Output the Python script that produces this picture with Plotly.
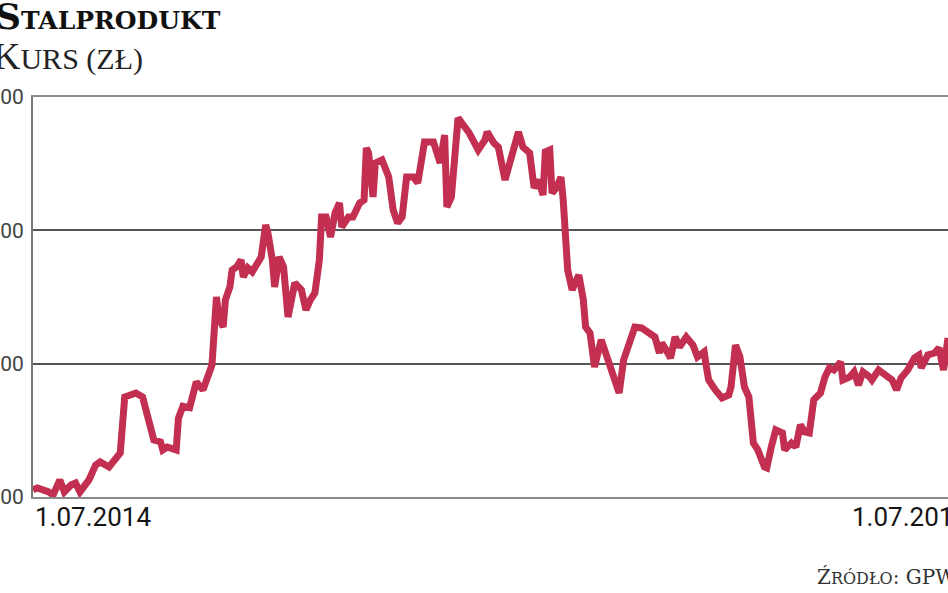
import plotly.graph_objects as go

dates = [
    "2014-07-01", "2014-07-03", "2014-07-08", "2014-07-10", "2014-07-13", "2014-07-15",
    "2014-07-18", "2014-07-20", "2014-07-22", "2014-07-26", "2014-07-29", "2014-07-31",
    "2014-08-04", "2014-08-07", "2014-08-09", "2014-08-11", "2014-08-16", "2014-08-19",
    "2014-08-22", "2014-08-24", "2014-08-27", "2014-08-28", "2014-08-30", "2014-09-03",
    "2014-09-04", "2014-09-06", "2014-09-09", "2014-09-11", "2014-09-12", "2014-09-15",
    "2014-09-17", "2014-09-19", "2014-09-21", "2014-09-22", "2014-09-24", "2014-09-25",
    "2014-09-27", "2014-09-28", "2014-09-30", "2014-10-02", "2014-10-03", "2014-10-05",
    "2014-10-07", "2014-10-09", "2014-10-11", "2014-10-13", "2014-10-14", "2014-10-16",
    "2014-10-17", "2014-10-19", "2014-10-21", "2014-10-23", "2014-10-24", "2014-10-26",
    "2014-10-29", "2014-10-31", "2014-11-02", "2014-11-04", "2014-11-06", "2014-11-07",
    "2014-11-09", "2014-11-11", "2014-11-13", "2014-11-15", "2014-11-16", "2014-11-19",
    "2014-11-21", "2014-11-24", "2014-11-26", "2014-11-27", "2014-11-28", "2014-11-30",
    "2014-12-01", "2014-12-04", "2014-12-07", "2014-12-09", "2014-12-11", "2014-12-13",
    "2014-12-15", "2014-12-18", "2014-12-20", "2014-12-23", "2014-12-27", "2014-12-30",
    "2015-01-01", "2015-01-02", "2015-01-04", "2015-01-06", "2015-01-07", "2015-01-12",
    "2015-01-16", "2015-01-19", "2015-01-20", "2015-01-23", "2015-01-25", "2015-01-28",
    "2015-01-30", "2015-02-01", "2015-02-03", "2015-02-05", "2015-02-08", "2015-02-10",
    "2015-02-12", "2015-02-14", "2015-02-15", "2015-02-17", "2015-02-18", "2015-02-20",
    "2015-02-22", "2015-02-23", "2015-02-24", "2015-02-25", "2015-02-27", "2015-03-02",
    "2015-03-04", "2015-03-05", "2015-03-07", "2015-03-09", "2015-03-12", "2015-03-14",
    "2015-03-16", "2015-03-19", "2015-03-20", "2015-03-22", "2015-03-25", "2015-03-27",
    "2015-03-30", "2015-04-02", "2015-04-05", "2015-04-07", "2015-04-08", "2015-04-10",
    "2015-04-12", "2015-04-14", "2015-04-16", "2015-04-19", "2015-04-22", "2015-04-24",
    "2015-04-27", "2015-04-28", "2015-04-29", "2015-05-02", "2015-05-05", "2015-05-08",
    "2015-05-09", "2015-05-11", "2015-05-13", "2015-05-15", "2015-05-17", "2015-05-19",
    "2015-05-21", "2015-05-24", "2015-05-25", "2015-05-27", "2015-05-29", "2015-06-01",
    "2015-06-02", "2015-06-05", "2015-06-07", "2015-06-09", "2015-06-11", "2015-06-13",
    "2015-06-14", "2015-06-15", "2015-06-18", "2015-06-20", "2015-06-22", "2015-06-24",
    "2015-06-27", "2015-06-28", "2015-07-01", "2015-07-03", "2015-07-05", "2015-07-07",
    "2015-07-10", "2015-07-11", "2015-07-14", "2015-07-17", "2015-07-20", "2015-07-22",
    "2015-07-24", "2015-07-27", "2015-07-30", "2015-08-01", "2015-08-02", "2015-08-05",
    "2015-08-08", "2015-08-10", "2015-08-12", "2015-08-14",
]

prices = [
    205.3, 206.8, 203.8, 201.5, 212.8, 203.8,
    209.0, 210.5, 203.8, 212.8, 224.0, 226.3,
    222.5, 229.3, 233.0, 275.0, 278.0, 275.0,
    252.5, 242.8, 241.3, 235.3, 237.5, 235.3,
    259.0, 268.0, 267.0, 280.0, 286.3, 280.3,
    289.3, 299.0, 350.0, 335.0, 327.5, 347.8,
    357.5, 370.3, 372.5, 377.8, 365.0, 371.8,
    368.8, 375.5, 380.0, 404.0, 398.0, 377.8,
    357.5, 380.0, 372.5, 335.0, 342.5, 360.5,
    355.3, 340.3, 347.8, 353.0, 377.8, 410.0,
    410.0, 395.0, 413.0, 420.5, 402.5, 410.0,
    410.0, 420.5, 422.8, 461.8, 458.0, 425.0,
    450.5, 452.8, 440.0, 415.3, 405.5, 410.0,
    440.0, 440.0, 435.5, 466.3, 466.3, 450.5,
    471.5, 417.5, 425.0, 475.3, 484.3, 473.0,
    460.3, 467.8, 473.8, 465.5, 462.5, 437.8,
    450.5, 460.3, 473.8, 462.5, 458.0, 431.8,
    437.8, 426.5, 458.8, 460.3, 428.0, 431.8,
    440.0, 422.8, 398.0, 370.3, 355.3, 366.5,
    347.8, 327.5, 323.0, 297.5, 317.8, 308.0,
    297.5, 282.5, 278.0, 302.8, 320.0, 327.5,
    326.8, 323.8, 320.0, 308.0, 315.5, 310.3,
    304.3, 320.0, 312.5, 320.0, 314.0, 305.0,
    308.8, 297.5, 287.8, 280.3, 274.3, 276.5,
    282.5, 314.0, 305.0, 282.5, 275.0, 240.5,
    235.3, 222.5, 221.8, 237.5, 250.3, 248.0,
    235.3, 240.5, 237.5, 254.0, 248.8, 248.0,
    260.0, 272.8, 278.0, 290.0, 296.8, 295.3,
    301.3, 287.8, 290.0, 293.8, 284.0, 293.8,
    290.0, 287.8, 295.3, 291.5, 287.8, 280.3,
    289.3, 295.3, 304.3, 306.5, 296.8, 306.5,
    308.0, 311.8, 295.3, 319.3,
]

y_ticks = [200, 300, 400, 500]
x_label_dates = ["2014-07-01", "2015-07-01"]
x_label_texts = ["1.07.2014", "1.07.2015"]

title_text = "<b><span style='font-size:36px'>S</span>TALPRODUKT</b>"
subtitle_text = "<span style='font-size:38px'>K</span>URS (ZŁ)"
source_text = "Ź<span style='font-size:16px'>RÓDŁO</span>: GPW"

LINE_COLOR = "#C22F50"

fig = go.Figure()
fig.add_trace(go.Scatter(
    x=dates, y=prices, mode="lines",
    line=dict(color=LINE_COLOR, width=7, shape="linear"),
    hoverinfo="skip", showlegend=False,
))

fig.update_layout(
    width=948, height=593,
    margin=dict(l=33, r=0, t=97, b=96, autoexpand=False),
    paper_bgcolor="white", plot_bgcolor="white",
    xaxis=dict(
        range=["2014-07-01", "2015-08-14"],
        showgrid=False, showticklabels=False, ticks="",
        showline=True, linecolor="#8a8a8a", linewidth=2, mirror=True,
        zeroline=False, automargin=False,
    ),
    yaxis=dict(
        range=[200, 500], tickvals=y_ticks,
        showgrid=True, gridcolor="#555555", gridwidth=1.5,
        showline=True, linecolor="#777777", linewidth=2,
        zeroline=False, ticks="", automargin=False,
        ticklabelstandoff=3,
        tickfont=dict(family="Roboto", size=21, color="#444444"),
    ),
)

for d, t in zip(x_label_dates, x_label_texts):
    fig.add_annotation(
        x=d, xref="x", y=-0.05, yref="paper",
        text=t, showarrow=False, xanchor="left", yanchor="middle",
        font=dict(family="Roboto", size=26, color="#151515"),
    )

fig.add_annotation(
    x=-0.0437, xref="paper", y=1.202, yref="paper",
    text=title_text, showarrow=False, xanchor="left", yanchor="middle",
    font=dict(family="DejaVu Serif", size=25, color="#111111"),
)
fig.add_annotation(
    x=-0.0459, xref="paper", y=1.1025, yref="paper",
    text=subtitle_text, showarrow=False, xanchor="left", yanchor="middle",
    font=dict(family="Liberation Serif", size=30, color="#222222"),
)
fig.add_annotation(
    x=0.8546, xref="paper", y=-0.2, yref="paper",
    text=source_text, showarrow=False, xanchor="left", yanchor="middle",
    font=dict(family="DejaVu Serif", size=20, color="#333333"),
)

fig.write_html(
    "out.html",
    config={"displayModeBar": False},
    post_script="document.body.style.margin='0';",
)
